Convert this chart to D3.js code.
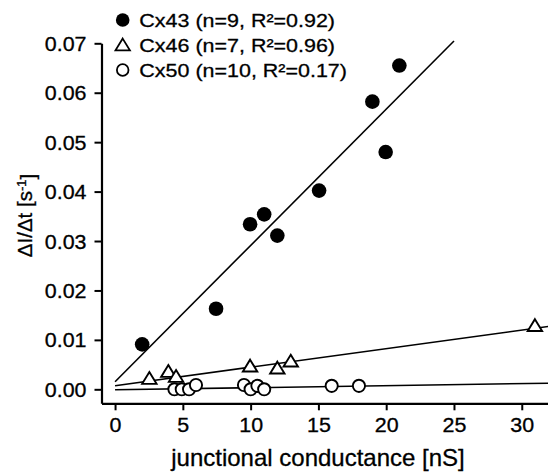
<!DOCTYPE html>
<html>
<head>
<meta charset="utf-8">
<script src="https://cdnjs.cloudflare.com/ajax/libs/d3/7.8.5/d3.min.js"></script>
<style>
    body { margin: 0; background: #fff; }
    svg { display: block; font-family: "Liberation Sans", Arial, Helvetica, sans-serif; }
    text { stroke: #000; stroke-width: 0.3px; }
</style>
</head>
<body>
<div id="chart"></div>
<script>
// Data
const cx43X = [2, 7.45, 9.96, 11, 11.97, 15.05, 18.98, 19.96, 20.97];
const cx43Y = [0.0091, 0.0163, 0.0334, 0.0354, 0.0311, 0.0402, 0.0582, 0.0480, 0.0655];
const cx46X = [2.53, 3.93, 4.5, 9.96, 11.97, 12.96, 30.97];
const cx46Y = [0.0022, 0.0036, 0.0026, 0.0047, 0.0043, 0.0057, 0.0129];
const cx50X = [4.38, 4.92, 5.46, 5.97, 9.51, 10.0, 10.5, 11.0, 15.98, 17.99];
const cx50Y = [0, 0, 0, 0.00087, 0.00087, 0, 0.0007, 0, 0.0007, 0.0007];

// linear fits (slope, intercept, x where the drawn line stops)
const fitSlope = [0.002757, 0.000375, 0.000042];
const fitIntercept = [0.00154, 0.00073, -0.0001];
const fitXEnd = [25.0, 31.95, 31.95];

const seriesNames = ['Cx43', 'Cx46', 'Cx50'];
const legendLabels = ['Cx43 (n=9, R\u00B2=0.92)', 'Cx46 (n=7, R\u00B2=0.96)', 'Cx50 (n=10, R\u00B2=0.17)'];
const xTicks = [0, 5, 10, 15, 20, 25, 30];
const yTicks = [0, 0.01, 0.02, 0.03, 0.04, 0.05, 0.06, 0.07];

const width = 548, height = 472;

const svg = d3.select('#chart').append('svg')
    .attr('width', width)
    .attr('height', height);

// scales: axis lines start at the corner, data origin is offset from it
const x = d3.scaleLinear().domain([-1.0, 31.95]).range([101.5, 548.2]);
const y = d3.scaleLinear().domain([-0.00283, 0.07]).range([403.3, 43.3]);

// stretch text a bit horizontally, the original lettering is wide
function stretch(sel, k) {
    sel.each(function () {
        const w = this.getComputedTextLength();
        d3.select(this).attr('textLength', w * k).attr('lengthAdjust', 'spacingAndGlyphs');
    });
}

// axes
const xAxis = d3.axisBottom(x).tickValues(xTicks).tickSizeInner(7).tickSizeOuter(0).tickPadding(8)
    .tickFormat(d3.format('d'));
const yAxis = d3.axisLeft(y).tickValues(yTicks).tickSizeInner(7).tickSizeOuter(0).tickPadding(8)
    .tickFormat(d3.format('.2f'));

const gx = svg.append('g')
    .attr('transform', 'translate(0,' + y.range()[0] + ')')
    .call(xAxis);
const gy = svg.append('g')
    .attr('transform', 'translate(' + x.range()[0] + ',0)')
    .call(yAxis);

[gx, gy].forEach(g => {
    g.select('.domain').attr('stroke', '#000').attr('stroke-width', 2.2);
    g.selectAll('.tick line').attr('stroke', '#000').attr('stroke-width', 2);
    g.selectAll('.tick text')
        .attr('fill', '#000')
        .style('font-size', '19.5px')
        .style('font-family', '"Liberation Sans", Arial, sans-serif');
});
gy.selectAll('.tick text').attr('dy', '0.36em');
stretch(gx.selectAll('.tick text'), 1.1);
stretch(gy.selectAll('.tick text'), 1.1);

// fit lines
const fits = seriesNames.map((name, i) => [
    [0, fitIntercept[i]],
    [fitXEnd[i], fitIntercept[i] + fitSlope[i] * fitXEnd[i]]
]);
const line = d3.line().x(d => x(d[0])).y(d => y(d[1]));

svg.append('g')
    .selectAll('path')
    .data(fits)
    .join('path')
    .attr('d', line)
    .attr('fill', 'none')
    .attr('stroke', '#000')
    .attr('stroke-width', 1.6);

// markers
const triPath = 'M0,-6.4L7.2,5.4L-7.2,5.4Z';

svg.append('g')
    .selectAll('circle')
    .data(cx50X.map((v, i) => [v, cx50Y[i]]))
    .join('circle')
    .attr('cx', d => x(d[0]))
    .attr('cy', d => y(d[1]))
    .attr('r', 6.1)
    .attr('fill', '#fff')
    .attr('stroke', '#000')
    .attr('stroke-width', 1.9);

svg.append('g')
    .selectAll('path')
    .data(cx46X.map((v, i) => [v, cx46Y[i]]))
    .join('path')
    .attr('d', triPath)
    .attr('transform', d => 'translate(' + x(d[0]) + ',' + y(d[1]) + ')')
    .attr('fill', '#fff')
    .attr('stroke', '#000')
    .attr('stroke-width', 1.9)
    .attr('stroke-linejoin', 'miter');

svg.append('g')
    .selectAll('circle')
    .data(cx43X.map((v, i) => [v, cx43Y[i]]))
    .join('circle')
    .attr('cx', d => x(d[0]))
    .attr('cy', d => y(d[1]))
    .attr('r', 7.3)
    .attr('fill', '#000');

// legend
const legend = svg.append('g').attr('transform', 'translate(122.7,20)');
const rows = legend.selectAll('g')
    .data(legendLabels)
    .join('g')
    .attr('transform', (d, i) => 'translate(0,' + (i * 25) + ')');

rows.filter((d, i) => i === 0).append('circle').attr('r', 6.8).attr('fill', '#000');
rows.filter((d, i) => i === 1).append('path').attr('d', triPath)
    .attr('fill', '#fff').attr('stroke', '#000').attr('stroke-width', 1.8);
rows.filter((d, i) => i === 2).append('circle').attr('r', 5.8)
    .attr('fill', '#fff').attr('stroke', '#000').attr('stroke-width', 1.8);

const legendText = rows.append('text')
    .attr('x', 16.6)
    .attr('dy', '0.36em')
    .style('font-size', '19px')
    .text(d => d);
stretch(legendText, 1.13);

// axis titles
svg.append('text')
    .attr('x', 318)
    .attr('y', 465.7)
    .attr('text-anchor', 'middle')
    .style('font-size', '24px')
    .text('junctional conductance [nS]');

const yTitle = svg.append('text')
    .attr('transform', 'translate(31.5,215.5) rotate(-90)')
    .attr('text-anchor', 'middle')
    .style('font-size', '20.5px');
yTitle.append('tspan').text('\u0394I/\u0394t [s');
yTitle.append('tspan').attr('dy', '-0.45em').style('font-size', '13px').text('-1');
yTitle.append('tspan').attr('dy', '0.45em').text(']');
</script>
</body>
</html>
